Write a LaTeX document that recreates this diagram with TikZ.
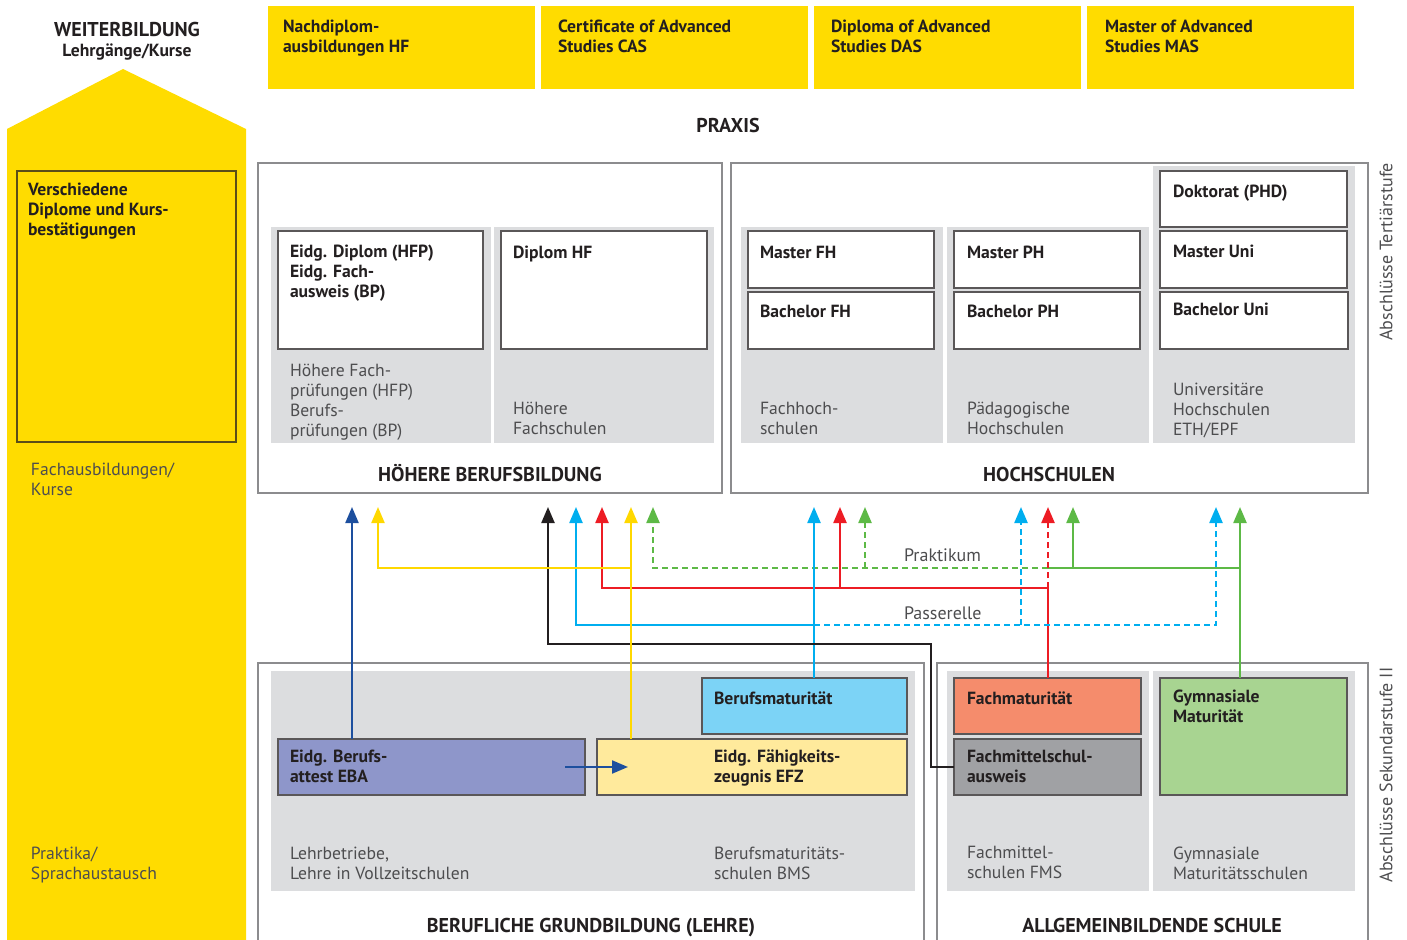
\documentclass[tikz,border=0pt]{standalone}
\usepackage{fontspec}
\setmainfont{PT Sans}
\usepackage{tikz}
\usetikzlibrary{arrows.meta,calc}
\definecolor{wbyellow}{HTML}{FFDC00}
\definecolor{framegrey}{HTML}{8C8C8E}
\definecolor{panel}{HTML}{DCDDDF}
\definecolor{ink}{HTML}{231F20}
\definecolor{greytext}{HTML}{4D4D4F}
\definecolor{lnblue}{HTML}{1D4F9E}
\definecolor{lnyellow}{HTML}{FFD800}
\definecolor{lncyan}{HTML}{00AEEF}
\definecolor{lnred}{HTML}{ED1C24}
\definecolor{lngreen}{HTML}{5DB946}
\definecolor{bmblue}{HTML}{7CD3F6}
\definecolor{ebaviolet}{HTML}{8E96CA}
\definecolor{efzyellow}{HTML}{FFEA9C}
\definecolor{fmsalmon}{HTML}{F58C6C}
\definecolor{fmsgrey}{HTML}{A0A1A4}
\definecolor{gymgreen}{HTML}{A8D491}
\newcommand{\labelsize}{\fontsize{8.8}{10}\selectfont}
\newcommand{\titlesize}{\fontsize{10}{12}\selectfont}

\begin{document}
\begin{tikzpicture}[
    x=0.5pt, y=-0.5pt,
    every node/.style={inner sep=0pt, outer sep=0pt},
    sz/.style 2 args={minimum width=#1*0.5pt, minimum height=#2*0.5pt},
    ybox/.style={fill=wbyellow, anchor=north west},
    panelbox/.style={fill=panel, anchor=north west},
    framebox/.style={draw=framegrey, line width=1.25pt, anchor=north west},
    wbox/.style={draw=ink!75, line width=0.6pt, fill=white, anchor=north west},
    cbox/.style={draw=ink!75, line width=0.6pt, fill=#1, anchor=north west},
    lbl/.style={anchor=north west, align=left, font=\bfseries\labelsize, text=ink, execute at begin node=\strut},
    sub/.style={lbl, font=\labelsize, text=greytext},
    title/.style={anchor=base, font=\bfseries\titlesize, text=ink},
    note/.style={anchor=base west, font=\fontsize{9}{11}\selectfont, text=greytext},
    vlabel/.style={rotate=90, font=\fontsize{9}{11}\selectfont, text=greytext},
    conn/.style={line width=1.1pt},
    arr/.style={conn, -{Triangle[width=6.5pt, length=8pt]}},
    dsh/.style={dash pattern=on 3pt off 2pt}
]
    \useasboundingbox (0,0) rectangle (1407,940);

    % Weiterbildung column
    \fill[wbyellow] (7,940) -- (7,129) -- (123,69) -- (246,129) -- (246,940) -- cycle;
    \node[title] (wb) at (127,37) {WEITERBILDUNG};
    \node[title, font=\bfseries\labelsize] (wbsub) at (127,57) {Lehrgänge/Kurse};
    \node[draw=ink!75!wbyellow, line width=0.6pt, anchor=north west, sz={219}{271}] (vd) at (17,171) {};
    \node[lbl] (vdtxt) at (28,183) {Verschiedene\\Diplome und Kurs-\\bestätigungen};
    \node[sub] (fa) at (31,463) {Fachausbildungen/\\Kurse};
    \node[sub] (pr) at (31,847) {Praktika/\\Sprachaustausch};

    % Praxis row
    \node[ybox, sz={267}{83}] (nd) at (268,6) {};
    \node[ybox, sz={267}{83}] (cas) at (541,6) {};
    \node[ybox, sz={267}{83}] (das) at (814,6) {};
    \node[ybox, sz={267}{83}] (mas) at (1087,6) {};
    \node[lbl] (ndtxt) at (283,20) {Nachdiplom-\\ausbildungen HF};
    \node[lbl] (castxt) at (558,20) {Certificate of Advanced\\Studies CAS};
    \node[lbl] (dastxt) at (831,20) {Diploma of Advanced\\Studies DAS};
    \node[lbl] (mastxt) at (1105,20) {Master of Advanced\\Studies MAS};
    \node[title] (praxis) at (728,133) {PRAXIS};

    % Hoehere Berufsbildung
    \node[framebox, sz={464}{330}] (hbb) at (258,163) {};
    \node[panelbox, sz={220}{216}] (hfpP) at (271,227) {};
    \node[panelbox, sz={220}{216}] (hfP) at (494,227) {};
    \node[wbox, sz={205}{118}] (hfp) at (278,231) {};
    \node[wbox, sz={206}{118}] (hf) at (501,231) {};
    \node[lbl] (hfptxt) at (290,245) {Eidg. Diplom (HFP)\\Eidg. Fach-\\ausweis (BP)};
    \node[lbl] (hftxt) at (513,245) {Diplom HF};
    \node[sub] (hfpsub) at (290,364) {Höhere Fach-\\prüfungen (HFP)\\Berufs-\\prüfungen (BP)};
    \node[sub] (hfsub) at (513,402) {Höhere\\Fachschulen};
    \node[title] (hbbT) at (490,482) {HÖHERE BERUFSBILDUNG};

    % Hochschulen
    \node[framebox, sz={637}{330}] (hs) at (731,163) {};
    \node[panelbox, sz={202}{216}] (fhP) at (741,227) {};
    \node[panelbox, sz={202}{216}] (phP) at (947,227) {};
    \node[panelbox, sz={202}{277}] (uniP) at (1153,166) {};
    \node[wbox, sz={186}{57}] (mfh) at (748,231) {};
    \node[wbox, sz={186}{57}] (bfh) at (748,292) {};
    \node[wbox, sz={186}{57}] (mph) at (954,231) {};
    \node[wbox, sz={186}{57}] (bph) at (954,292) {};
    \node[wbox, sz={187}{56}] (dok) at (1160,171) {};
    \node[wbox, sz={187}{57}] (muni) at (1160,231) {};
    \node[wbox, sz={188}{57}] (buni) at (1160,292) {};
    \node[lbl] (mfhtxt) at (760,245) {Master FH};
    \node[lbl] (bfhtxt) at (760,304) {Bachelor FH};
    \node[lbl] (mphtxt) at (967,245) {Master PH};
    \node[lbl] (bphtxt) at (967,304) {Bachelor PH};
    \node[lbl] (doktxt) at (1173,184) {Doktorat (PHD)};
    \node[lbl] (munitxt) at (1173,244) {Master Uni};
    \node[lbl] (bunitxt) at (1173,302) {Bachelor Uni};
    \node[sub] (fhsub) at (760,402) {Fachhoch-\\schulen};
    \node[sub] (phsub) at (967,402) {Pädagogische\\Hochschulen};
    \node[sub] (unisub) at (1173,383) {Universitäre\\Hochschulen\\ETH/EPF};
    \node[title] (hsT) at (1049,482) {HOCHSCHULEN};
    \node[vlabel] (tert) at (1386,252) {Abschlüsse Tertiärstufe};

    % Berufliche Grundbildung
    \node[framebox, sz={666}{300}] (bgb) at (258,663) {};
    \node[panelbox, sz={644}{220}] (bgbP) at (271,671) {};
    \node[cbox=bmblue, sz={205}{56}] (bm) at (702,678) {};
    \node[cbox=ebaviolet, sz={307}{56}] (eba) at (278,739) {};
    \node[cbox=efzyellow, sz={310}{56}] (efz) at (597,739) {};
    \node[lbl] (bmtxt) at (714,690) {Berufsmaturität};
    \node[lbl] (ebatxt) at (290,750) {Eidg. Berufs-\\attest EBA};
    \node[lbl] (efztxt) at (714,750) {Eidg. Fähigkeits-\\zeugnis EFZ};
    \node[sub] (lbsub) at (290,847) {Lehrbetriebe,\\Lehre in Vollzeitschulen};
    \node[sub] (bmssub) at (714,847) {Berufsmaturitäts-\\schulen BMS};
    \node[title] (bgbT) at (591,932) {BERUFLICHE GRUNDBILDUNG (LEHRE)};

    % Allgemeinbildende Schule
    \node[framebox, sz={431}{300}] (as) at (937,663) {};
    \node[panelbox, sz={202}{220}] (fmsP) at (947,671) {};
    \node[panelbox, sz={202}{220}] (gymP) at (1153,671) {};
    \node[cbox=fmsalmon, sz={187}{56}] (fm) at (954,678) {};
    \node[cbox=fmsgrey, sz={187}{56}] (fms) at (954,739) {};
    \node[cbox=gymgreen, sz={187}{117}] (gym) at (1160,678) {};
    \node[lbl] (fmtxt) at (967,690) {Fachmaturität};
    \node[lbl] (fmstxt) at (967,750) {Fachmittelschul-\\ausweis};
    \node[lbl] (gymtxt) at (1173,690) {Gymnasiale\\Maturität};
    \node[sub] (fmssub) at (967,846) {Fachmittel-\\schulen FMS};
    \node[sub] (gymsub) at (1173,847) {Gymnasiale\\Maturitätsschulen};
    \node[title] (asT) at (1152,932) {ALLGEMEINBILDENDE SCHULE};
    \node[vlabel] (sek) at (1386,775) {Abschlüsse Sekundarstufe II};

    % Levels and arrow tips
    \coordinate (lvG) at (0,568);
    \coordinate (lvR) at (0,588);
    \coordinate (lvC) at (0,625);
    \coordinate (lvK) at (0,644);
    \coordinate (hfpB) at (352,507);
    \coordinate (hfpY) at (378,507);
    \coordinate (hfK) at (548,507);
    \coordinate (hfC) at (576,507);
    \coordinate (hfR) at (602,507);
    \coordinate (hfY) at (631,507);
    \coordinate (hfG) at (653,507);
    \coordinate (fhC) at (814,507);
    \coordinate (fhR) at (840,507);
    \coordinate (fhG) at (865,507);
    \coordinate (phC) at (1021,507);
    \coordinate (phR) at (1048,507);
    \coordinate (phG) at (1073,507);
    \coordinate (uniC) at (1216,507);
    \coordinate (uniG) at (1240,507);

    % Gymnasiale Maturitaet
    \draw[arr, lngreen] (gym.north -| uniG) -- (uniG);
    \draw[conn, lngreen] (uniG |- lvG) -- (phR |- lvG);
    \draw[arr, lngreen] (phG |- lvG) -- (phG);
    \draw[arr, lngreen, dsh] (phR |- lvG) -| (hfG);
    \draw[arr, lngreen, dsh] (fhG |- lvG) -- (fhG);

    % Fachmaturitaet
    \draw[arr, lnred] (fm.north -| phR) |- (hfR |- lvR) -- (hfR);
    \draw[arr, lnred] (fhR |- lvR) -- (fhR);
    \draw[arr, lnred, dsh] (phR |- lvR) -- (phR);

    % Berufsmaturitaet
    \draw[arr, lncyan] (bm.north -| fhC) -- (fhC);
    \draw[arr, lncyan] (fhC |- lvC) -| (hfC);
    \draw[arr, lncyan, dsh] (fhC |- lvC) -| (uniC);
    \draw[arr, lncyan, dsh] (phC |- lvC) -- (phC);
    \node[note] (prak) at (904,561) {Praktikum};
    \node[note] (pass) at (904,619) {Passerelle};

    % Fachmittelschulausweis
    \draw[arr, ink] (fms.west) -- ++(-23,0) |- (hfK |- lvK) -- (hfK);

    % EFZ and EBA
    \draw[arr, lnyellow] (efz.north -| hfY) -- (hfY);
    \draw[arr, lnyellow] (hfY |- lvG) -| (hfpY);
    \draw[arr, lnblue] (eba.north -| hfpB) -- (hfpB);
    \draw[arr, lnblue] ([shift={(-20,0)}]eba.east) -- ([shift={(31,0)}]efz.west);
\end{tikzpicture}
\end{document}
